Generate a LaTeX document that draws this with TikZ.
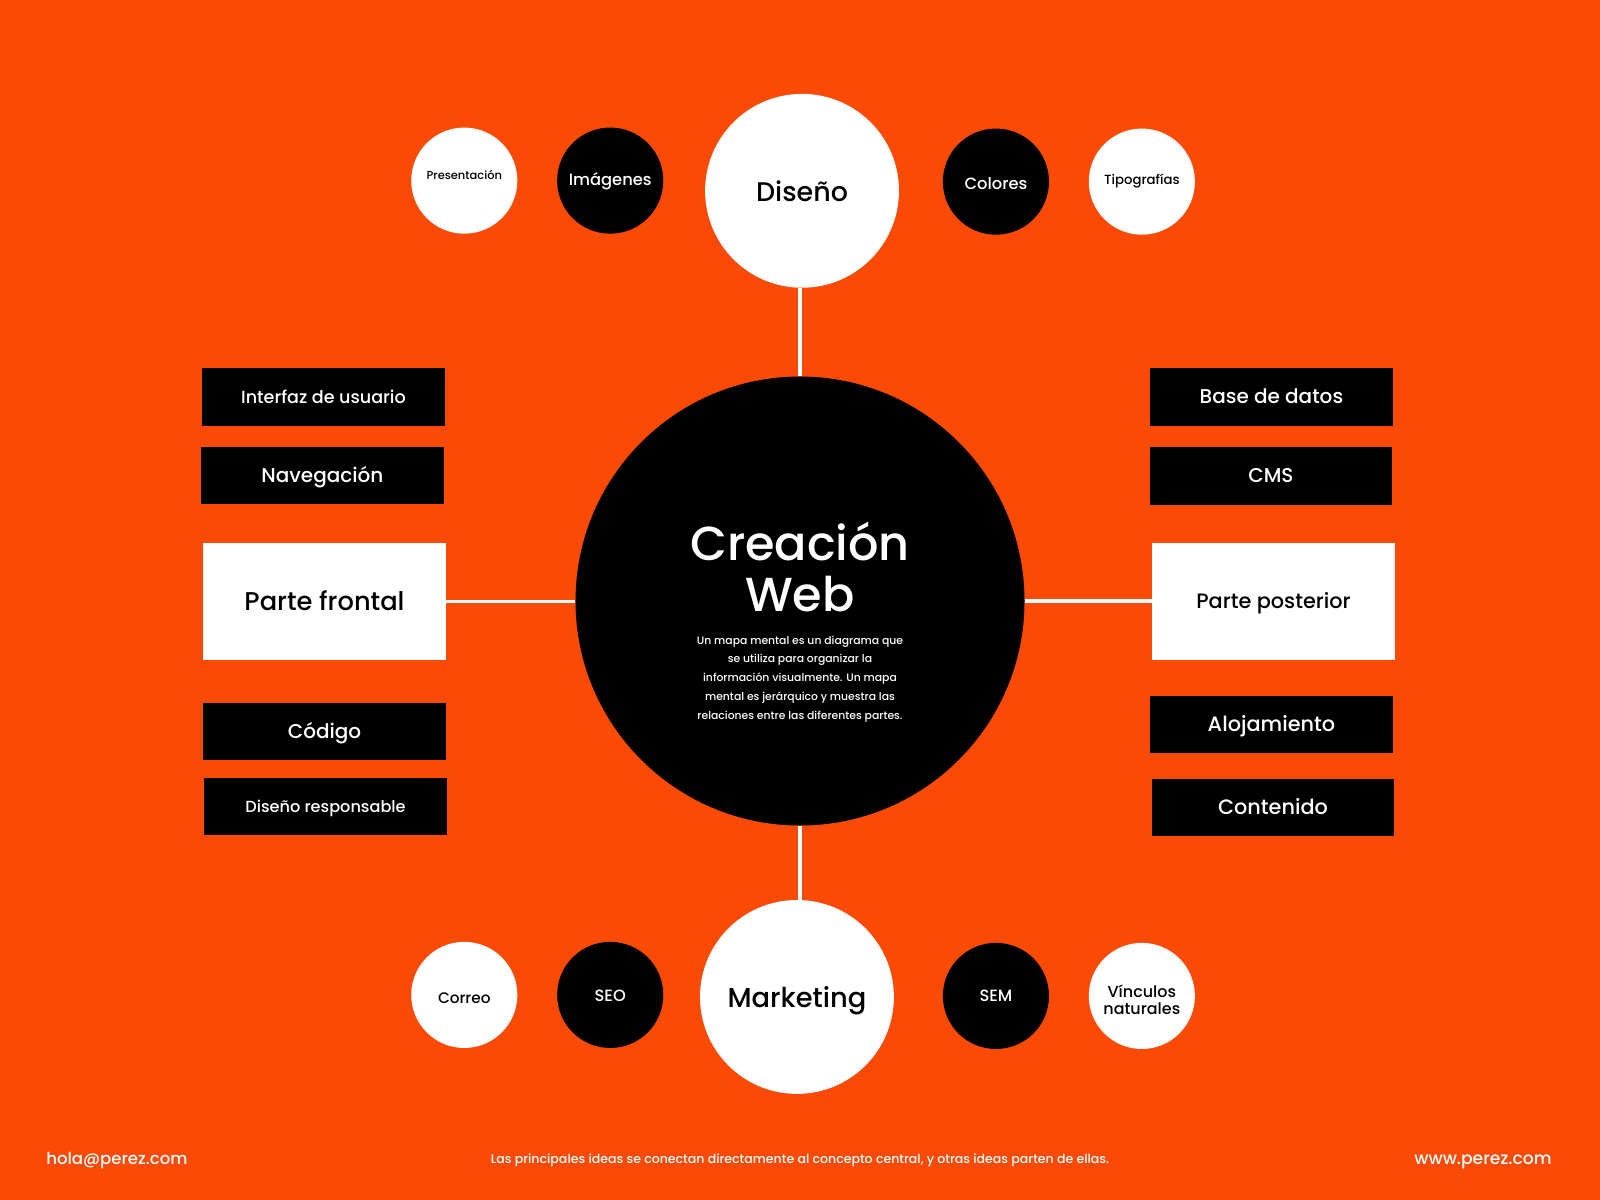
\documentclass[tikz,border=0pt]{standalone}
\usepackage{fontspec}
\setmainfont{Poppins}[UprightFont=* Medium]
\definecolor{bgor}{RGB}{251,74,5}
\newcommand\fsz[2]{\fontsize{#1}{#2}\selectfont}
% centre the capitals of a one-line label; optional argument lifts it
\newcommand\cc[2][0pt]{\raisebox{#1}[\fontcharht\font`H][0pt]{#2}}
\begin{document}
\begin{tikzpicture}[x=0.5pt,y=-0.5pt,
  wcirc/.style={circle, fill=white, text=black, inner sep=0pt, minimum size=#1},
  bcirc/.style={circle, fill=black, text=white, inner sep=0pt, minimum size=52pt},
  bbox/.style={rectangle, fill=black, text=white, inner sep=0pt, minimum width=119pt, minimum height=28pt},
  wbox/.style={rectangle, fill=white, text=black, inner sep=0pt, minimum width=119pt, minimum height=57.5pt},
  link/.style={draw=white, line width=1.7pt},
  ftext/.style={text=white, inner sep=0pt}]
\fill[bgor] (0,0) rectangle (1568,1176);
\useasboundingbox (0,0) rectangle (1568,1176);

% centre
\node[circle, fill=black, inner sep=0pt, minimum size=220pt] (center) at (784,589) {};
\node[ftext, anchor=base, font=\fsz{23.4pt}{25pt}] (t1) at (784,549) {Creación};
\node[ftext, anchor=base, font=\fsz{23.4pt}{25pt}] (t2) at (784,599) {Web};
\node[ftext, align=center, font=\fsz{5.3pt}{9.25pt}] (para) at (784,665.5)
  {Un mapa mental es un diagrama que\\se utiliza para organizar la\\información visualmente. Un mapa\\mental es jerárquico y muestra las\\relaciones entre las diferentes partes.};

% top
\node[wcirc=95pt, font=\fsz{13.2pt}{15pt}] (diseno) at (786,187) {\cc[-0.8pt]{Diseño}};
\node[wcirc=52pt, font=\fsz{5.6pt}{7pt}] (pres) at (455,177) {\cc[2.5pt]{Presentación}};
\node[bcirc, font=\fsz{8pt}{9pt}] (imag) at (598,177) {\cc[0.5pt]{Imágenes}};
\node[bcirc, font=\fsz{8pt}{9pt}] (colo) at (976,178) {\cc[-1pt]{Colores}};
\node[wcirc=52pt, font=\fsz{6.5pt}{8pt}] (tipo) at (1119,178) {\cc[1pt]{Tipografías}};

% bottom
\node[wcirc=95pt, font=\fsz{13.4pt}{15pt}] (mark) at (781,977) {\cc[-0.7pt]{Marketing}};
\node[wcirc=52pt, font=\fsz{7.5pt}{9pt}] (corr) at (455,975) {\cc[-1.5pt]{Correo}};
\node[bcirc, font=\fsz{8pt}{9pt}] (seo) at (598,975) {\cc[-0.5pt]{SEO}};
\node[bcirc, font=\fsz{8pt}{9pt}] (sem) at (976,976) {\cc{SEM}};
\node[wcirc=52pt, label={[align=center, yshift=-2pt, inner sep=0pt, font=\fsz{7.8pt}{8.5pt}]center:Vínculos\\naturales}] (vinc) at (1119,976) {};

% left
\node[bbox, font=\fsz{8.6pt}{10pt}] (ui) at (317,389) {\cc{Interfaz de usuario}};
\node[bbox, font=\fsz{9.8pt}{11pt}] (nav) at (316,466) {\cc{Navegación}};
\node[wbox, font=\fsz{12.6pt}{15pt}] (front) at (318,589.5) {\cc{Parte frontal}};
\node[bbox, font=\fsz{9.8pt}{11pt}] (cod) at (318,717) {\cc{Código}};
\node[bbox, font=\fsz{7.9pt}{10pt}] (resp) at (319,790.5) {\cc{Diseño responsable}};

% right
\node[bbox, font=\fsz{9.8pt}{11pt}] (bd) at (1246,389) {\cc{Base de datos}};
\node[bbox, font=\fsz{9.8pt}{11pt}] (cms) at (1245.5,466.5) {\cc{CMS}};
\node[wbox, font=\fsz{10.2pt}{12pt}] (back) at (1248,589.5) {\cc{Parte posterior}};
\node[bbox, font=\fsz{10.2pt}{11pt}] (aloj) at (1246,710) {\cc{Alojamiento}};
\node[bbox, font=\fsz{10.2pt}{11pt}] (cont) at (1247.5,791) {\cc{Contenido}};

% connectors
\draw[link] (center.north) -- (center.north |- diseno.south);
\draw[link] (center.south) -- (center.south |- mark.north);
\draw[link] (front.east) -- (front.east -| center.west);
\draw[link] (center.east) -- (center.east -| back.west);

% footer
\node[ftext, anchor=base west, font=\fsz{8.1pt}{9pt}] (mail) at (45,1141) {hola@perez.com};
\node[ftext, anchor=base east, font=\fsz{8.4pt}{9pt}] (web) at (1521,1141) {www.perez.com};
\node[ftext, anchor=base, font=\fsz{6.15pt}{7pt}] (foot) at (784,1140) {Las principales ideas se conectan directamente al concepto central, y otras ideas parten de ellas.};
\end{tikzpicture}
\end{document}
